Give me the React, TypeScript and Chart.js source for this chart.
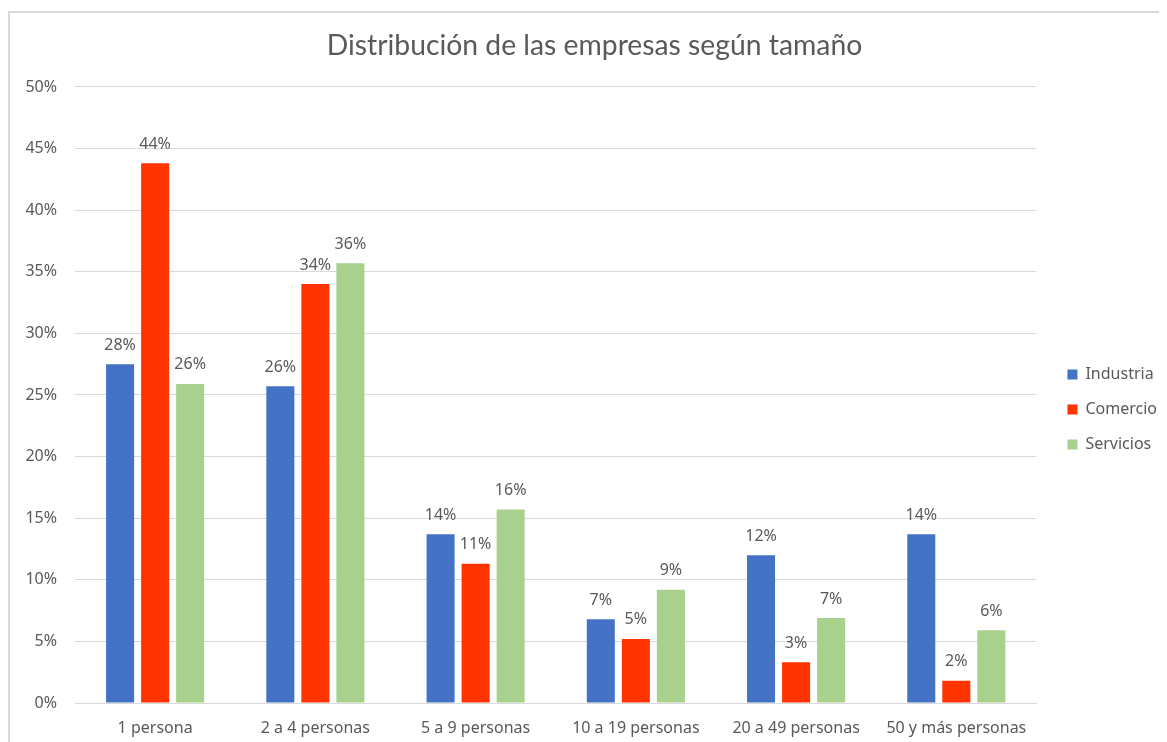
import React, { useEffect, useRef } from "react";
import { Chart, registerables } from "chart.js";

Chart.register(...registerables);

const categories = [
  "1 persona",
  "2 a 4 personas",
  "5 a 9 personas",
  "10 a 19 personas",
  "20 a 49 personas",
  "50 y más personas",
];
const industria = [27.5, 25.7, 13.7, 6.8, 12.0, 13.7];
const comercio = [43.8, 34.0, 11.3, 5.2, 3.3, 1.8];
const servicios = [25.9, 35.7, 15.7, 9.2, 6.9, 5.9];
const seriesNames = ["Industria", "Comercio", "Servicios"];
const seriesColors = ["#4472C4", "#FF3300", "#A9D18E"];
const titleText = "Distribución de las empresas según tamaño";

const TEXT = "#595959";
const GRID = "#d9d9d9";
const FONT = "'Noto Sans', sans-serif";

const dataLabels = {
  id: "dataLabels",
  afterDatasetsDraw(chart: any) {
    const ctx = chart.ctx;
    ctx.save();
    ctx.font = `16px ${FONT}`;
    ctx.fillStyle = TEXT;
    ctx.textAlign = "center";
    ctx.textBaseline = "middle";
    chart.data.datasets.forEach((ds: any, i: number) => {
      const meta = chart.getDatasetMeta(i);
      meta.data.forEach((el: any, j: number) => {
        const v = ds.data[j];
        ctx.fillText(Math.round(v) + "%", el.x, el.y - 19);
      });
    });
    ctx.restore();
  },
};

export default function App() {
  const ref = useRef<HTMLCanvasElement>(null);
  useEffect(() => {
    document.body.style.overflow = "hidden";
    const values = [industria, comercio, servicios];
    const chart = new Chart(ref.current!, {
      type: "bar",
      data: {
        labels: categories,
        datasets: seriesNames.map((name, i) => ({
          label: name,
          data: values[i],
          backgroundColor: seriesColors[i],
          borderWidth: 0,
          categoryPercentage: 0.656,
          barPercentage: 0.8,
        })),
      },
      options: {
        animation: false,
        responsive: false,
        devicePixelRatio: 1,
        layout: { padding: { left: 12, right: 0, top: 0, bottom: 0 } },
        plugins: {
          title: {
            display: true,
            text: titleText,
            color: TEXT,
            font: { family: "Lato, sans-serif", size: 28.3, weight: "normal" as any },
            padding: { top: 16, bottom: 24 },
          },
          legend: {
            position: "right",
            title: { display: true, text: " ", font: { size: 1 }, padding: { top: 63, bottom: 0 } },
            labels: {
              boxWidth: 10,
              boxHeight: 10,
              padding: 19,
              color: TEXT,
              font: { family: FONT, size: 16 },
            },
          },
          tooltip: { enabled: false },
        },
        scales: {
          x: {
            grid: { display: false, drawTicks: false },
            border: { display: true, color: GRID, width: 1 },
            ticks: { color: TEXT, font: { family: FONT, size: 16 }, padding: 16, maxRotation: 0 },
            afterFit: (s: any) => {
              s.height = 39;
            },
          },
          y: {
            min: 0,
            max: 50,
            grid: { color: GRID, drawTicks: false, lineWidth: 1 },
            border: { display: false },
            ticks: {
              stepSize: 5,
              color: TEXT,
              font: { family: FONT, size: 16 },
              padding: 18,
              callback: (v: any) => v + "%",
            },
            afterFit: (s: any) => {
              s.width = 53;
            },
          },
          yPad: {
            type: "linear",
            position: "right",
            display: true,
            grid: { display: false },
            border: { display: false },
            ticks: { display: false },
            afterFit: (s: any) => {
              s.width = 12;
            },
          },
        },
      },
      plugins: [dataLabels],
    });
    return () => chart.destroy();
  }, []);
  return (
    <div
      style={{
        marginTop: 3,
        borderTop: `2px solid ${GRID}`,
        borderLeft: `2px solid ${GRID}`,
        width: 1159,
        height: 731,
        boxSizing: "border-box",
      }}
    >
      <canvas ref={ref} width={1157} height={729} style={{ display: "block" }} />
    </div>
  );
}
